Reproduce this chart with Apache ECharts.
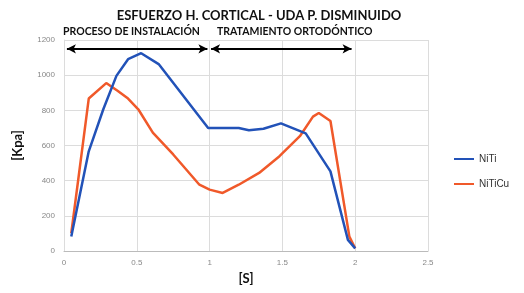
<!DOCTYPE html>
<html><head><meta charset="utf-8">
<script src="https://cdn.jsdelivr.net/npm/echarts@6/dist/echarts.min.js"></script>
<style>html,body{margin:0;padding:0;background:#fff}#c{width:524px;height:293px}</style>
</head><body><div id="c"></div>
<script>
const xTicks = [0, 0.5, 1, 1.5, 2, 2.5];
const yTicks = [0, 200, 400, 600, 800, 1000, 1200];
const nitiX = [0.05, 0.17, 0.27, 0.36, 0.44, 0.53, 0.65, 0.82, 0.99, 1.01, 1.2, 1.27, 1.37, 1.49, 1.66, 1.83, 1.95, 2.0];
const nitiY = [82, 567, 806, 996, 1091, 1125, 1063, 882, 700, 700, 700, 687, 695, 726, 669, 453, 63, 15];
const niticuX = [0.05, 0.17, 0.29, 0.37, 0.44, 0.51, 0.61, 0.75, 0.93, 1.0, 1.09, 1.2, 1.34, 1.48, 1.62, 1.71, 1.75, 1.83, 1.96, 2.0];
const niticuY = [101, 867, 955, 910, 867, 806, 673, 549, 377, 349, 330, 377, 444, 539, 653, 764, 785, 739, 82, 15];
const dividerX = 1;
const dividerY = [20, 1235];
const arrowY = 1150;
const arrow1 = [0.02, 0.985];
const arrow2 = [1.01, 1.975];

const zip = (xs, ys) => xs.map((x, i) => [x, ys[i]]);
const chart = echarts.init(document.getElementById('c'), null, {renderer: 'canvas'});
const boldFont = 'Lato';
chart.setOption({
  animation: false,
  title: [
    {text: 'ESFUERZO H. CORTICAL - UDA P. DISMINUIDO', left: 259, top: 9, padding: 0, textAlign: 'center',
     textStyle: {fontFamily: boldFont, fontWeight: 'bold', fontSize: 13, color: '#111'}},
    {text: 'PROCESO DE INSTALACIÓN', left: 63, top: 26, padding: 0,
     textStyle: {fontFamily: boldFont, fontWeight: 'bold', fontSize: 10.5, color: '#111'}},
    {text: 'TRATAMIENTO ORTODÓNTICO', left: 217, top: 26, padding: 0,
     textStyle: {fontFamily: boldFont, fontWeight: 'bold', fontSize: 10.5, color: '#111'}}
  ],
  grid: {left: 64, right: 96, top: 40, bottom: 42},
  legend: {
    orient: 'vertical', left: 449, top: 149, itemWidth: 20, itemHeight: 2, itemGap: 15,
    icon: 'rect',
    textStyle: {fontFamily: 'Liberation Sans', fontSize: 10, color: '#333'},
    data: ['NiTi', 'NiTiCu']
  },
  xAxis: {
    type: 'value', min: xTicks[0], max: xTicks[xTicks.length - 1], interval: 0.5,
    name: '[S]', nameLocation: 'middle', nameGap: 20,
    nameTextStyle: {fontFamily: boldFont, fontWeight: 'bold', fontSize: 13, color: '#111'},
    axisLine: {show: true, lineStyle: {color: '#bbb'}},
    axisTick: {show: false},
    splitLine: {show: true, lineStyle: {color: '#dcdcdc'}},
    axisLabel: {fontFamily: 'Liberation Sans', fontSize: 8, color: '#888', margin: 8}
  },
  yAxis: {
    type: 'value', min: yTicks[0], max: yTicks[yTicks.length - 1], interval: 200,
    name: '[Kpa]', nameLocation: 'middle', nameGap: 40, nameRotate: 90,
    nameTextStyle: {fontFamily: boldFont, fontWeight: 'bold', fontSize: 13, color: '#111'},
    axisLine: {show: true, lineStyle: {color: '#dcdcdc'}},
    axisTick: {show: false},
    splitLine: {show: true, lineStyle: {color: '#dcdcdc'}},
    axisLabel: {fontFamily: 'Liberation Sans', fontSize: 8, color: '#888', margin: 9, formatter: v => String(v)}
  },
  series: [
    {name: 'NiTi', type: 'line', data: zip(nitiX, nitiY), symbol: 'none', z: 3,
     lineStyle: {color: '#2252b8', width: 2.5}, itemStyle: {color: '#2252b8'}},
    {name: 'NiTiCu', type: 'line', data: zip(niticuX, niticuY), symbol: 'none', z: 2,
     lineStyle: {color: '#f0592a', width: 2.5}, itemStyle: {color: '#f0592a'}},
    {name: 'marks', type: 'line', data: [], clip: false, z: 5,
     markLine: {
       silent: true, animation: false, label: {show: false},
       lineStyle: {color: '#000', type: 'solid', width: 2},
       data: [
         [{coord: [dividerX, dividerY[0]], symbol: 'none'}, {coord: [dividerX, dividerY[1]], symbol: 'none', lineStyle: {width: 2.5}}],
         [{coord: [arrow1[0], arrowY], symbol: 'arrow', symbolSize: [7, 9]}, {coord: [arrow1[1], arrowY], symbol: 'arrow', symbolSize: [7, 9]}],
         [{coord: [arrow2[0], arrowY], symbol: 'arrow', symbolSize: [7, 9]}, {coord: [arrow2[1], arrowY], symbol: 'arrow', symbolSize: [7, 9]}]
       ]
     }}
  ]
});
</script></body></html>
